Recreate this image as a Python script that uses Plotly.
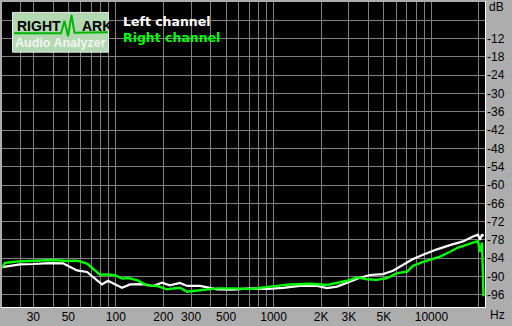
import plotly.graph_objects as go

# ---- data ----
freq_left = [19.0, 21.3, 24.7, 29.9, 38.3, 46.3, 51.2, 56.8, 65.7, 71.7, 81.7, 89.2, 98.8,
             109.4, 123, 148.7, 172, 196, 220, 255, 283, 342, 438, 553, 709, 908, 1147,
             1470, 1883, 2180, 2521, 3048, 3527, 4082, 4934, 5708, 6604, 7643, 8845,
             10850, 13115, 15855, 18345, 19735, 20320, 20920, 21380]
db_left = [-86.9, -86.5, -86.0, -85.9, -85.6, -85.7, -86.9, -88.0, -88.5, -90.1, -92.6, -91.4, -92.6,
           -93.7, -92.6, -92.5, -93.1, -92.0, -92.9, -92.1, -93.1, -93.1, -94.2, -94.3, -93.9, -94.1, -93.7,
           -93.1, -93.1, -93.8, -93.3, -91.7, -90.4, -89.5, -89.2, -88.1, -86.3, -84.3, -82.9,
           -81.1, -79.7, -78.5, -76.9, -76.3, -78.0, -76.2, -76.8]

freq_right = [19.0, 19.85, 23.6, 29.9, 40.0, 49.1, 56.8, 65.7, 71.7, 79.4, 87.9, 98.8, 109.4,
              119.5, 136.2, 157.6, 182.4, 211, 255, 283, 342, 438, 553, 709, 949, 1270, 1700,
              2180, 2917, 3377, 3906, 4520, 5231, 6051, 7003, 7643, 8845, 10233, 11334,
              13115, 14740, 18345, 19735, 20320, 20920, 21380]
db_right = [-87.2, -85.5, -85.1, -84.9, -84.6, -84.9, -84.8, -85.8, -87.4, -89.4, -89.3, -89.6, -90.7,
            -90.5, -91.2, -92.9, -93.1, -94.2, -93.7, -95.0, -94.5, -93.9, -93.9, -94.1, -93.3, -92.6, -92.4,
            -92.8, -91.4, -90.3, -90.9, -91.1, -90.5, -88.9, -88.4, -86.5, -85.2, -84.1, -83.5,
            -81.9, -80.5, -78.9, -78.4, -82.0, -78.9, -96.5]

x_grid = [25, 30, 40, 50, 60, 70, 80, 90,
          100, 200, 300, 400, 500, 600, 700, 800, 900,
          1000, 2000, 3000, 4000, 5000, 6000, 7000, 8000, 9000,
          10000, 20000]
x_labels = {30: "30", 50: "50", 100: "100", 200: "200", 300: "300", 500: "500",
            1000: "1000", 2000: "2K", 3000: "3K", 5000: "5K", 10000: "10000"}
y_grid = [0, -6, -12, -18, -24, -30, -36, -42, -48, -54, -60, -66, -72, -78, -84, -90, -96]
y_labels = {v: str(v) for v in y_grid if v <= -12}

series_names = ["Left channel", "Right channel"]
series_colors = ["#ffffff", "#00ff00"]

# ---- layout geometry (pixels) ----
W, H = 512, 326
PX0, PX1, PY0, PY1 = 2, 485, 2, 309
BG = "#adadad"


def px(x):
    return (x - PX0) / (PX1 - PX0)


def py(y):
    return 1 - (y - PY0) / (PY1 - PY0)


fig = go.Figure()
fig.add_trace(go.Scatter(x=freq_left, y=db_left, mode="lines", name=series_names[0],
                         line=dict(color=series_colors[0], width=2.2)))
fig.add_trace(go.Scatter(x=freq_right, y=db_right, mode="lines", name=series_names[1],
                         line=dict(color=series_colors[1], width=2.4)))

shapes = []
shapes.append(dict(type="line", xref="paper", yref="paper", x0=px(485.5), x1=px(485.5),
                   y0=py(1), y1=py(309.5), line=dict(color="#ffffff", width=1)))
shapes.append(dict(type="line", xref="paper", yref="paper", x0=px(1), x1=px(486),
                   y0=py(309.5), y1=py(309.5), line=dict(color="#ffffff", width=1)))
# logo box
shapes.append(dict(type="rect", xref="paper", yref="paper", x0=px(12.5), x1=px(108.5),
                   y0=py(12.5), y1=py(52.5), fillcolor="#b2d9b2",
                   line=dict(color="#e8e8e8", width=1)))
wave = [(14, 33.5), (61, 33.5), (64.5, 21), (68, 36.5), (71.5, 15), (74.5, 33),
        (108, 32.5)]
path = "M " + " L ".join(f"{px(a):.5f},{py(b):.5f}" for a, b in wave)
shapes.append(dict(type="path", xref="paper", yref="paper", path=path,
                   line=dict(color="#00b400", width=2)))

annotations = []
for txt, x0 in (("RIGHT", 15), ("ARK", 80)):
    annotations.append(dict(text=f"<b>{txt}</b>", x=px(x0), y=py(26), xref="paper", yref="paper",
                            xanchor="left", yanchor="middle", showarrow=False,
                            font=dict(family="Liberation Sans", size=14, color="#000000")))
annotations.append(dict(text="<b>Audio Analyzer</b>", x=px(60.5), y=py(43.5), xref="paper",
                        yref="paper", xanchor="center", yanchor="middle", showarrow=False,
                        font=dict(family="Liberation Sans", size=12.5, color="#f4f4f4")))
for i, (nm, col) in enumerate(zip(series_names, series_colors)):
    annotations.append(dict(text=f"<b>{nm}</b>", x=px(121), y=py(22 + 15.5 * i),
                            xref="paper", yref="paper", xanchor="left", yanchor="middle",
                            showarrow=False,
                            font=dict(family="DejaVu Sans", size=12.5, color=col)))
annotations.append(dict(text="dB", x=px(487), y=py(7.5), xref="paper", yref="paper",
                        xanchor="left", yanchor="middle", showarrow=False,
                        font=dict(family="Liberation Sans", size=12, color="#000000")))
annotations.append(dict(text="Hz", x=px(497), y=py(317), xref="paper", yref="paper",
                        xanchor="center", yanchor="middle", showarrow=False,
                        font=dict(family="Liberation Sans", size=12, color="#000000")))

fig.update_layout(
    width=W, height=H,
    margin=dict(l=PX0, r=W - PX1, t=PY0, b=H - PY1, pad=0),
    paper_bgcolor=BG, plot_bgcolor="#000000",
    showlegend=False,
    shapes=shapes, annotations=annotations,
    xaxis=dict(type="log", range=[1.2787, 4.3395], tickmode="array",
               tickvals=x_grid, ticktext=[x_labels.get(v, "") for v in x_grid],
               showgrid=True, gridcolor="#808080", gridwidth=1, zeroline=False,
               showline=False, ticks="", ticklabelstandoff=1,
               tickfont=dict(family="Liberation Sans", size=12, color="#000000")),
    yaxis=dict(side="right", range=[-100, 0], tickmode="array",
               tickvals=y_grid, ticktext=[y_labels.get(v, "") for v in y_grid],
               showgrid=True, gridcolor="#808080", gridwidth=1, zeroline=False,
               showline=False, ticks="", ticklabelstandoff=1,
               tickfont=dict(family="Liberation Sans", size=12, color="#000000")),
)

fig.write_html("out.html")
